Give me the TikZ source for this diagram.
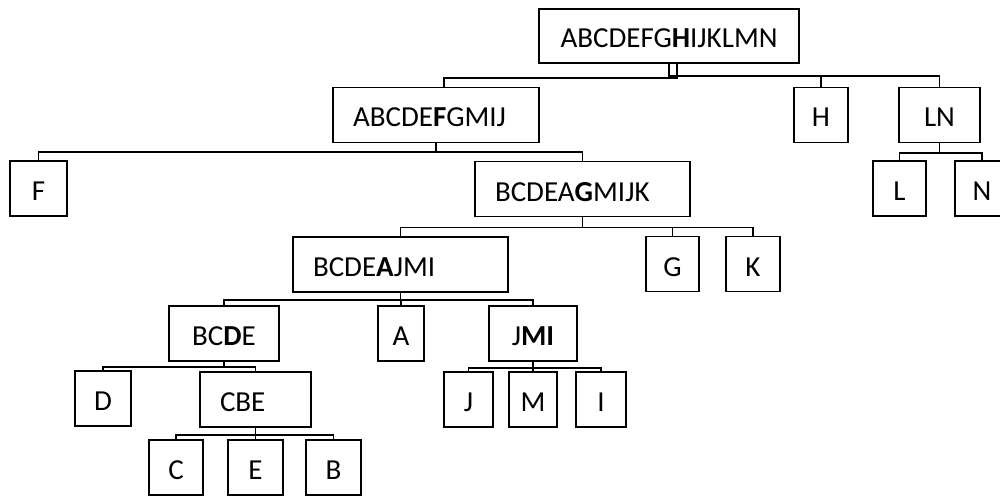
\documentclass[tikz,border=0pt]{standalone}
\usepackage{fontspec}
\setmainfont{Carlito}
\tikzset{
  box/.style={draw, minimum height=55pt, text height=24pt, text depth=0pt,
              font=\fontsize{29}{34}\selectfont},
  lbox/.style={box, align=left, inner xsep=20pt, text width=#1},
  tree/.style={to path={-- ++(0,#1) -| (\tikztotarget)}},
}

\begin{document}
\begin{tikzpicture}[x=1pt, y=-1pt, line width=1.8pt]
  \useasboundingbox (0,0) rectangle (1000,497);

  \node[box, minimum width=260pt, minimum height=54pt] (r)  at (669,36)    {ABCDEFG\textbf{H}IJKLMN};
  \node[lbox=166pt]                                    (f1) at (436,115)   {ABCDE\textbf{F}GMIJ};
  \node[box, minimum width=54pt]                       (h)  at (821,115)   {H};
  \node[box, minimum width=81pt]                       (ln) at (939.5,115) {LN};
  \node[box, minimum width=57pt]                       (f)  at (38.5,188.5)  {F};
  \node[lbox=175pt]                                    (g1) at (582.5,189)   {BCDEA\textbf{G}MIJK};
  \node[box, minimum width=53pt]                       (l)  at (899.5,188.5) {L};
  \node[box, minimum width=54pt]                       (n)  at (982,188.5)   {N};
  \node[lbox=175pt]                                    (a1) at (400.5,264.5) {BCDE\textbf{A}JMI};
  \node[box, minimum width=53pt]                       (g)  at (672.5,264)   {G};
  \node[box, minimum width=54pt]                       (k)  at (753,264)     {K};
  \node[box, minimum width=110pt]                      (d1) at (224,333.5)   {BC\textbf{D}E};
  \node[box, minimum width=46pt]                       (a)  at (401,333.5)   {A};
  \node[box, minimum width=88pt]                       (m1) at (533,333.5)   {J\textbf{MI}};
  \node[box, minimum width=56pt]                       (d)  at (103,398.5)   {D};
  \node[lbox=71pt]                                     (cbe) at (255.5,399.5) {CBE};
  \node[box, minimum width=49pt]                       (j)  at (468.5,399.5) {J};
  \node[box, minimum width=48pt]                       (m)  at (533,399.5)   {M};
  \node[box, minimum width=50pt]                       (i)  at (601,399.5)   {I};
  \node[box, minimum width=54pt]                       (c)  at (176,467.5)   {C};
  \node[box, minimum width=55pt]                       (e)  at (255.5,467.5) {E};
  \node[box, minimum width=55pt]                       (b)  at (333.5,467.5) {B};

  \draw ([xshift=8pt]r.south) edge[tree=14] ([xshift=8pt]f1.north)
        (r.south)  edge[tree=12] (h.north)
        (r.south)  edge[tree=12] (ln.north)
        (f1.south) edge[tree=9]  (f.north)
        (f1.south) edge[tree=9]  (g1.north)
        (ln.south) edge[tree=10] (l.north)
        (ln.south) edge[tree=10] (n.north)
        (g1.south) edge[tree=10] (a1.north)
        (g1.south) edge[tree=10] (g.north)
        (g1.south) edge[tree=10] (k.north)
        (a1.south) edge[tree=7]  (d1.north)
        (a1.south) edge[tree=7]  (a.north)
        (a1.south) edge[tree=7]  (m1.north)
        (d1.south) edge[tree=5]  (d.north)
        (d1.south) edge[tree=5]  (cbe.north)
        (m1.south) edge[tree=6]  (j.north)
        (m1.south) edge[tree=6]  (m.north)
        (m1.south) edge[tree=6]  (i.north)
        (cbe.south) edge[tree=7] (c.north)
        (cbe.south) edge[tree=7] (e.north)
        (cbe.south) edge[tree=7] (b.north);
\end{tikzpicture}
\end{document}
